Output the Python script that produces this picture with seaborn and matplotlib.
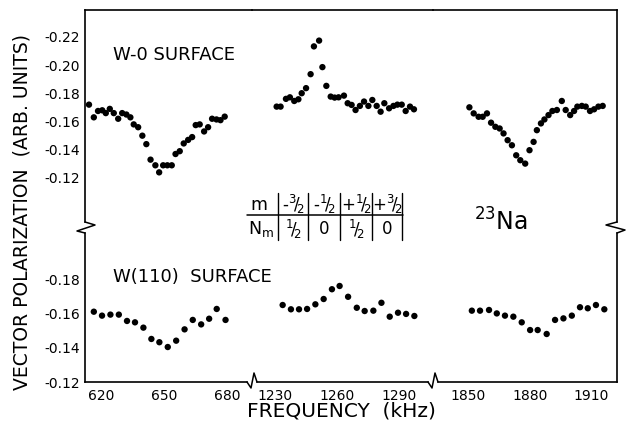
import pandas as pd
import seaborn as sns
import matplotlib.pyplot as plt
from matplotlib.lines import Line2D

# ---- data (frequency in kHz, vector polarization) ----
# W-0 surface (upper panel)
w0_freq_1 = [614.4, 616.7, 618.7, 620.7, 622.4, 624.3, 626.2, 628.3, 630.2, 632.2, 634.1, 635.7,
             637.8, 639.8, 641.7, 643.7, 646.0, 647.8, 649.7, 651.7, 653.8, 655.6, 657.6, 659.5,
             661.6, 663.5, 665.2, 667.1, 669.2, 671.1, 673.0, 675.1, 677.0, 679.0]
w0_pol_1 = [-0.172, -0.163, -0.1675, -0.168, -0.166, -0.169, -0.166, -0.162, -0.166, -0.165, -0.163, -0.158,
            -0.156, -0.150, -0.144, -0.133, -0.129, -0.124, -0.129, -0.129, -0.129, -0.137, -0.139, -0.1445,
            -0.147, -0.149, -0.1575, -0.158, -0.153, -0.156, -0.162, -0.1615, -0.161, -0.1635]
w0_freq_2 = [1230.8, 1232.7, 1235.3, 1237.2, 1239.3, 1241.3, 1242.9, 1245.0, 1247.2, 1248.8, 1251.3, 1252.9,
             1254.8, 1256.9, 1258.8, 1260.7, 1263.3, 1265.1, 1267.0, 1268.9, 1271.0, 1273.0, 1275.1, 1277.0,
             1279.1, 1281.0, 1282.8, 1285.1, 1287.2, 1289.1, 1291.2, 1293.1, 1295.2, 1297.1]
w0_pol_2 = [-0.1706, -0.1706, -0.1761, -0.1772, -0.1746, -0.1758, -0.1801, -0.1837, -0.1936, -0.2133, -0.2174, -0.1986,
            -0.1853, -0.1777, -0.177, -0.1772, -0.1784, -0.173, -0.1718, -0.1682, -0.1711, -0.1742, -0.1711, -0.1753,
            -0.1711, -0.167, -0.173, -0.1694, -0.1711, -0.172, -0.172, -0.1675, -0.1706, -0.1687]
w0_freq_3 = [1850.5, 1852.6, 1855.0, 1857.0, 1859.1, 1861.1, 1863.2, 1865.3, 1867.2, 1869.2, 1871.3, 1873.4,
             1875.4, 1877.8, 1879.9, 1881.9, 1883.5, 1885.5, 1887.2, 1889.2, 1891.1, 1893.3, 1895.7, 1897.6,
             1899.8, 1901.7, 1903.3, 1905.5, 1907.4, 1909.5, 1911.5, 1913.6, 1915.7]
w0_pol_3 = [-0.1701, -0.1658, -0.1634, -0.1634, -0.1658, -0.1592, -0.1563, -0.1551, -0.1516, -0.1468, -0.1432, -0.1361,
            -0.1326, -0.1302, -0.1397, -0.1456, -0.1539, -0.1587, -0.1615, -0.1646, -0.1675, -0.1682, -0.1746, -0.1682,
            -0.1646, -0.1675, -0.1706, -0.1711, -0.1706, -0.1675, -0.1687, -0.1706, -0.1711]

# W(110) surface (lower panel)
w110_freq_1 = [616.7, 620.6, 624.6, 628.6, 632.5, 636.3, 640.3, 644.1, 647.9, 651.9, 655.9, 659.9,
               663.8, 667.8, 671.6, 675.2, 679.4]
w110_pol_1 = [-0.161, -0.1587, -0.1593, -0.1593, -0.1556, -0.1548, -0.1517, -0.1451, -0.1432, -0.1404, -0.1441, -0.1507,
              -0.1562, -0.1536, -0.1569, -0.1626, -0.1562]
w110_freq_2 = [1233.7, 1237.7, 1241.6, 1245.5, 1249.5, 1253.5, 1257.5, 1261.2, 1265.3, 1269.5, 1273.3, 1277.5,
               1281.4, 1285.4, 1289.4, 1293.3, 1297.3]
w110_pol_2 = [-0.1649, -0.1624, -0.1624, -0.1626, -0.1653, -0.1684, -0.1741, -0.176, -0.1697, -0.1633, -0.1614, -0.1616,
              -0.1662, -0.1581, -0.1604, -0.1597, -0.1585]
w110_freq_3 = [1851.7, 1855.7, 1860.1, 1863.9, 1867.9, 1872.0, 1876.1, 1880.2, 1883.9, 1888.3, 1892.4, 1896.5,
               1900.6, 1904.6, 1908.4, 1912.4, 1916.5]
w110_pol_3 = [-0.1616, -0.1616, -0.162, -0.16, -0.1587, -0.1581, -0.1548, -0.1503, -0.1503, -0.148, -0.1562, -0.1571,
              -0.1587, -0.1636, -0.163, -0.1649, -0.1624]

# tick labels
x_ticks = [[620, 650, 680], [1230, 1260, 1290], [1850, 1880, 1910]]
y_ticks_top = [-0.22, -0.20, -0.18, -0.16, -0.14, -0.12]
y_labels_top = ['-0.22', '-0.20', '-0.18', '-0.16', '-0.14', '-0.12']
y_ticks_bottom = [-0.20, -0.18, -0.16, -0.14, -0.12]
y_labels_bottom = ['', '-0.18', '-0.16', '-0.14', '-0.12']

# inset table
table_m = [r'-$^3\!/\!_2$', r'-$^1\!/\!_2$', r'+$^1\!/\!_2$', r'+$^3\!/\!_2$']
table_nm = [r'$^1\!/\!_2$', '0', r'$^1\!/\!_2$', '0']

# long-form table for seaborn
frames = []
for surface, segs in [('W-0', [(w0_freq_1, w0_pol_1), (w0_freq_2, w0_pol_2), (w0_freq_3, w0_pol_3)]),
                      ('W(110)', [(w110_freq_1, w110_pol_1), (w110_freq_2, w110_pol_2), (w110_freq_3, w110_pol_3)])]:
    for i, (f, p) in enumerate(segs):
        frames.append(pd.DataFrame({'surface': surface, 'segment': i, 'freq': f, 'pol': p}))
data = pd.concat(frames, ignore_index=True)

sns.set_theme(style='white')
plt.rcParams['font.family'] = ['DejaVu Sans']
plt.rcParams['text.color'] = 'black'
plt.rcParams['mathtext.default'] = 'regular'

W, H = 626, 430
fig = plt.figure(figsize=(W / 100, H / 100), dpi=100)


def fig_xy(x, y):
    # pixel position (from top-left) -> figure fraction
    return x / W, 1 - y / H


# broken-axis layout, in pixels
col_px = [(85, 252), (252, 433), (433, 617)]
row_px = [(10, 222), (233, 382)]
x_lims = [(612.5, 692.0), (1218.9, 1306.3), (1832.7, 1922.7)]
y_lims = [(-0.0888, -0.2391), (-0.12, -0.2069)]
bottom_px = [(85, 247), (257, 428), (438, 617)]

for r, surface in enumerate(['W-0', 'W(110)']):
    for c in range(3):
        x0, x1 = col_px[c]
        y0, y1 = row_px[r]
        ax = fig.add_axes([x0 / W, 1 - y1 / H, (x1 - x0) / W, (y1 - y0) / H])
        ax.patch.set_alpha(0)
        sub = data[(data.surface == surface) & (data.segment == c)]
        sns.scatterplot(data=sub, x='freq', y='pol', ax=ax, color='black', s=21,
                        edgecolor='none', legend=False)
        ax.set_xlim(*x_lims[c])
        ax.set_ylim(*y_lims[r])
        ax.set_xlabel('')
        ax.set_ylabel('')
        for s in ax.spines.values():
            s.set_visible(False)
            s.set_linewidth(1.2)
            s.set_color('black')
        ax.tick_params(direction='in', length=5, width=1.1, color='black',
                       labelsize=10, labelcolor='black')
        if r == 0:
            ax.spines['top'].set_visible(True)
        else:
            ax.spines['bottom'].set_visible(True)
            lo, hi = x_lims[c]
            b0, b1 = bottom_px[c]
            conv = lambda px: lo + (px - x0) / (x1 - x0) * (hi - lo)
            ax.spines['bottom'].set_bounds(conv(b0), conv(b1))
        if r == 1:
            ax.set_xticks(x_ticks[c])
            ax.set_xticklabels([str(t) for t in x_ticks[c]])
            ax.tick_params(axis='x', pad=5)
        else:
            ax.set_xticks([])
        if c == 0:
            ax.spines['left'].set_visible(True)
            if r == 0:
                ax.set_yticks(y_ticks_top)
                ax.set_yticklabels(y_labels_top)
            else:
                ax.set_yticks(y_ticks_bottom)
                ax.set_yticklabels(y_labels_bottom)
        else:
            ax.set_yticks([])
        if c == 2:
            ax.spines['right'].set_visible(True)


def zigzag(points):
    xs, ys = zip(*[fig_xy(x, y) for x, y in points])
    fig.add_artist(Line2D(xs, ys, transform=fig.transFigure, color='black', lw=1.1))


# axis break marks
zigzag([(85, 222), (95, 225), (77, 231), (85, 233)])
zigzag([(617, 222), (606, 225), (625, 230), (617, 233)])
zigzag([(247, 382), (251, 388), (254, 373), (257, 382)])
zigzag([(428, 382), (432, 388), (435, 373), (438, 382)])

# labels
fig.text(*fig_xy(22, 212), 'VECTOR POLARIZATION  (ARB. UNITS)', rotation=90,
         ha='center', va='center', fontsize=13.5)
fig.text(*fig_xy(341, 411), 'FREQUENCY  (kHz)', ha='center', va='center', fontsize=14.5)
fig.text(*fig_xy(113, 55), 'W-0 SURFACE', ha='left', va='center', fontsize=13)
fig.text(*fig_xy(113, 277), 'W(110)  SURFACE', ha='left', va='center', fontsize=13)
fig.text(*fig_xy(474, 231), r'$^{23}$Na', ha='left', va='baseline', fontsize=17)

# inset table
cell_x = [293, 324, 356, 387]
fig.text(*fig_xy(259, 205), 'm', ha='center', va='center', fontsize=12.5)
fig.text(*fig_xy(261, 229), r'N$_m$', ha='center', va='center', fontsize=12.5)
for x, a, b in zip(cell_x, table_m, table_nm):
    fig.text(*fig_xy(x, 204), a, ha='center', va='center', fontsize=12)
    fig.text(*fig_xy(x, 229), b, ha='center', va='center', fontsize=12)
xs, ys = zip(fig_xy(247, 215), fig_xy(403, 215))
fig.add_artist(Line2D(xs, ys, transform=fig.transFigure, color='black', lw=1.1))
for x in [278, 308, 340, 372, 402]:
    xs, ys = zip(fig_xy(x, 193), fig_xy(x, 240))
    fig.add_artist(Line2D(xs, ys, transform=fig.transFigure, color='black', lw=1.0))

plt.savefig('out.png', dpi=100)
plt.close()
